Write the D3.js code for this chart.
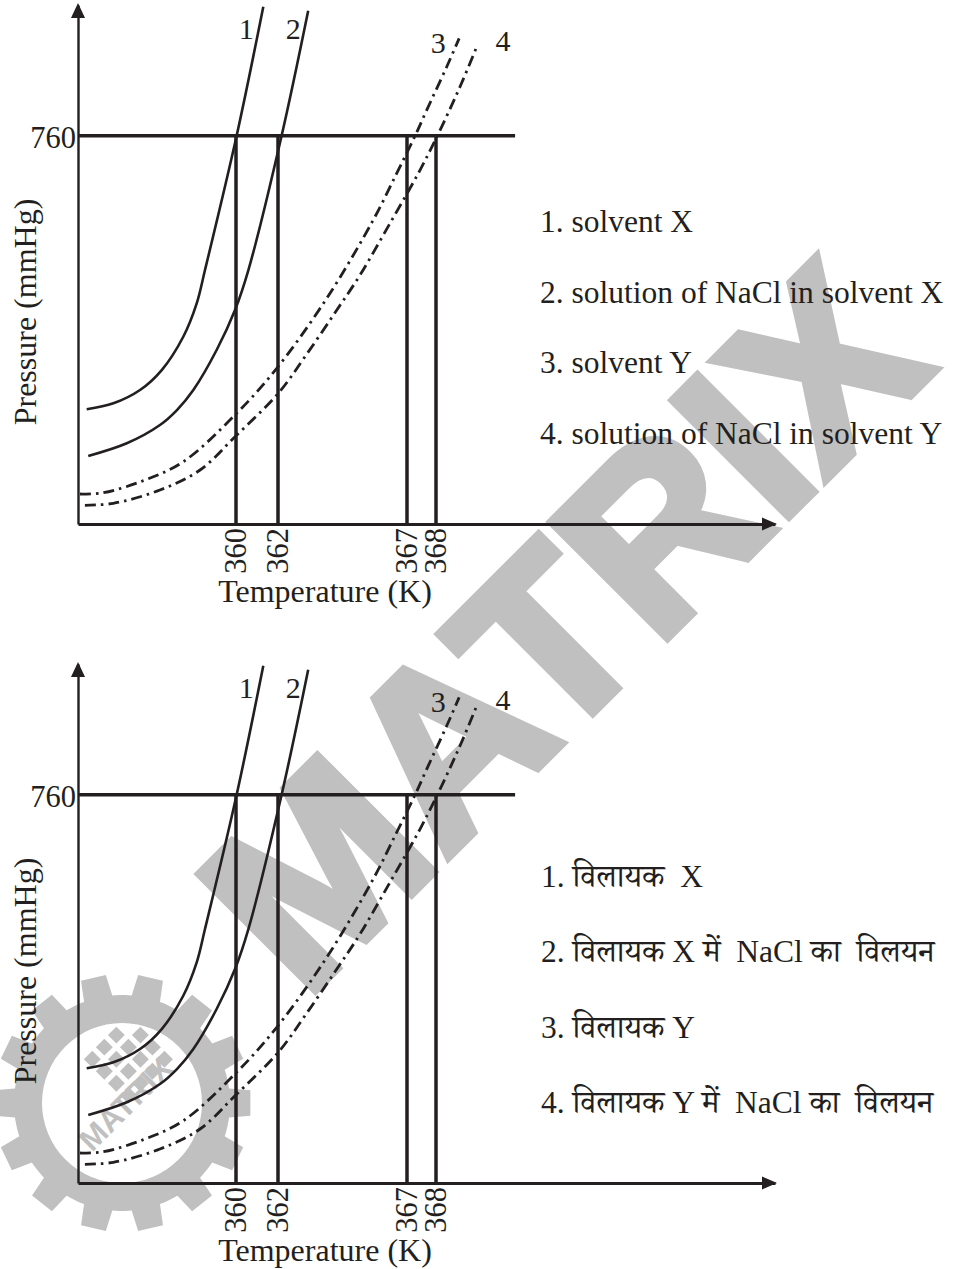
<!DOCTYPE html>
<html>
<head>
<meta charset="utf-8">
<script src="https://cdn.jsdelivr.net/npm/d3@7"></script>
<style>
  html, body { margin: 0; padding: 0; background: #ffffff; }
  svg { display: block; }
  text { white-space: pre; }
</style>
</head>
<body>
<svg id="chart" width="956" height="1269"></svg>
<script>
// Boiling points marked on the temperature axis (K)
const boilingPoints = [360, 362, 367, 368];
const tickLabels = ["360", "362", "367", "368"];

// Atmospheric pressure reference (mmHg)
const atmPressure = 760;
const atmLabel = "760";
const atmLineEndT = 370.8;   // temperature where the 760 mmHg line stops

// Vapour-pressure curves: temperature (K) and pressure (mmHg)
const solventX_T   = [352.44, 353.79, 355.14, 356.24, 357.33, 358.01, 358.43, 360.03, 361.30];
const solventX_P   = [224.5, 236.2, 262.3, 301.4, 366.6, 432.0, 497.2, 760.0, 1012.5];

const solutionX_T  = [352.52, 354.47, 356.15, 357.01, 357.84, 359.02, 359.95, 360.59, 362.14, 363.17];
const solutionX_P  = [133.1, 158.0, 193.8, 223.1, 262.3, 340.6, 418.9, 497.2, 760.0, 1004.7];

const solventY_T   = [352.10, 353.28, 355.31, 357.33, 360.03, 361.94, 363.89, 365.69, 366.60, 367.28, 367.68, 368.38, 368.82];
const solventY_P   = [58.7, 61.3, 84.8, 121.9, 216.7, 304.8, 441.8, 595.0, 686.4, 760.0, 810.3, 895.1, 950.7];

const solutionY_T  = [352.35, 353.79, 356.15, 358.18, 359.95, 362.01, 363.09, 364.28, 365.18, 366.34, 367.45, 368.20, 368.85, 369.42];
const solutionY_P  = [36.6, 40.5, 66.5, 105.7, 170.9, 255.8, 330.8, 418.9, 487.4, 588.6, 692.9, 777.6, 855.9, 931.1];

const seriesNames = ["1", "2", "3", "4"];

// Legend texts
const legendEnglish = [
  "1. solvent X",
  "2. solution of NaCl in solvent X",
  "3. solvent Y",
  "4. solution of NaCl in solvent Y"
];
const legendHindi = [
  "1. विलायक  X",
  "2. विलायक X में  NaCl का  विलयन",
  "3. विलायक Y",
  "4. विलायक Y में  NaCl का  विलयन"
];

const xTitle = "Temperature (K)";
const yTitle = "Pressure (mmHg)";
const markText = "MATRIX";

// ---------------------------------------------------------------------------
const ink = "#231f20";
const grey = "#c0c0c0";
const serif = "'Liberation Serif','Times New Roman',Times,serif";
const deva = "'Liberation Serif','Noto Serif Devanagari','Noto Sans Devanagari','Lohit Devanagari','FreeSerif','Noto Sans',serif";

const svg = d3.select("#chart");

// Schematic (piece-wise) temperature axis and linear pressure axis
const x = d3.scaleLinear()
  .domain([352, 360, 362, 367, 368, 380])
  .range([78, 236, 278, 407, 436, 775]);
const y = d3.scaleLinear().domain([0, 1016]).range([524, 5]);

const zip = (T, P) => T.map((t, i) => ({ t, p: P[i] }));
const dashDot = "11,5,2.5,5";
const series = [
  { name: seriesNames[0], pts: zip(solventX_T, solventX_P),   dash: null,    lab: [-17, 32] },
  { name: seriesNames[1], pts: zip(solutionX_T, solutionX_P), dash: null,    lab: [-15, 28] },
  { name: seriesNames[2], pts: zip(solventY_T, solventY_P),   dash: dashDot, lab: [-21, 15] },
  { name: seriesNames[3], pts: zip(solutionY_T, solutionY_P), dash: dashDot, lab: [27, 3] }
];

// ---------------- background mark ----------------
const wm = svg.append("g").attr("class", "watermark");

function gearPath(cx, cy, rTip, rRoot, rHole, teeth, phase) {
  const p = d3.path();
  const pitch = 2 * Math.PI / teeth;
  const wRoot = pitch * 0.30, wTip = pitch * 0.22;
  const pt = (r, a) => [cx + r * Math.sin(a), cy - r * Math.cos(a)];
  for (let i = 0; i < teeth; i++) {
    const c = phase + i * pitch;
    const a = pt(rRoot, c - wRoot), b = pt(rTip, c - wTip), d = pt(rTip, c + wTip), e = pt(rRoot, c + wRoot);
    if (i === 0) p.moveTo(a[0], a[1]); else p.lineTo(a[0], a[1]);
    p.lineTo(b[0], b[1]); p.lineTo(d[0], d[1]); p.lineTo(e[0], e[1]);
    const next = c + pitch - wRoot;
    for (let s = 1; s <= 6; s++) {
      const q = pt(rRoot, c + wRoot + (next - c - wRoot) * s / 6);
      p.lineTo(q[0], q[1]);
    }
  }
  p.closePath();
  p.moveTo(cx + rHole, cy);
  p.arc(cx, cy, rHole, 0, 2 * Math.PI, true);
  p.closePath();
  return p.toString();
}

const gearC = [122, 1103];
wm.append("path")
  .attr("d", gearPath(gearC[0], gearC[1], 129, 108, 80, 14, Math.PI / 14))
  .attr("fill", grey).attr("fill-rule", "evenodd");

// small logo inside the gear
const logo = wm.append("g").attr("transform", `translate(${gearC[0]},${gearC[1]}) rotate(-45)`);
const cells = d3.range(16).map(k => ({ i: k % 4, j: Math.floor(k / 4) })).filter(c => !(c.i === 3 && c.j === 0));
logo.selectAll("rect").data(cells).join("rect")
  .attr("x", c => 4 + c.i * 17)
  .attr("y", c => -58 + c.j * 17)
  .attr("width", 12).attr("height", 12)
  .attr("fill", grey);
logo.append("text")
  .attr("x", 2).attr("y", 14)
  .attr("text-anchor", "middle")
  .attr("font-family", "'Liberation Sans',Arial,sans-serif")
  .attr("font-weight", "bold")
  .attr("font-size", 31)
  .attr("fill", grey)
  .text(markText);

wm.append("text")
  .attr("transform", "translate(560,624) rotate(-45)")
  .attr("text-anchor", "middle")
  .attr("dy", "0.36em")
  .attr("font-family", "'Liberation Sans',Arial,sans-serif")
  .attr("font-weight", "bold")
  .attr("font-size", 238)
  .attr("fill", grey)
  .attr("stroke", grey)
  .attr("stroke-width", 9)
  .attr("stroke-linejoin", "miter")
  .text(markText);

// ---------------- the two panels ----------------
const panels = [
  { dy: 0,   legend: legendEnglish, legendX: 540, legendY: 232, legendStep: 70.6, font: serif },
  { dy: 659, legend: legendHindi,   legendX: 541, legendY: 228, legendStep: 75.3, font: deva }
];

const line = d3.line().x(d => x(d.t)).y(d => y(d.p)).curve(d3.curveCatmullRom.alpha(0.5));

panels.forEach(pn => {
  const g = svg.append("g").attr("transform", `translate(0,${pn.dy})`);

  // temperature axis
  const ax = g.append("g")
    .attr("transform", `translate(0,${y(0)})`)
    .call(d3.axisBottom(x).tickValues(boilingPoints)
      .tickFormat((d, i) => tickLabels[i]).tickSize(0).tickSizeOuter(0));
  ax.select(".domain").attr("stroke", ink).attr("stroke-width", 2.8);
  ax.selectAll(".tick text")
    .attr("transform", "rotate(-90)")
    .attr("x", -4).attr("y", 0).attr("dy", "0.32em")
    .attr("text-anchor", "end")
    .attr("font-family", serif).attr("font-size", 30.5).attr("fill", ink);
  g.append("path")
    .attr("d", `M${x.range()[5] + 2},${y(0)} l-15,-6.5 v13 z`)
    .attr("fill", ink);

  // pressure axis
  const ay = g.append("g")
    .attr("transform", `translate(${x(352)},0)`)
    .call(d3.axisLeft(y).tickValues([atmPressure]).tickFormat(() => atmLabel)
      .tickSize(0).tickSizeOuter(0));
  ay.select(".domain").attr("stroke", ink).attr("stroke-width", 2.4);
  ay.selectAll(".tick text")
    .attr("x", -2).attr("dy", "0.4em")
    .attr("font-family", serif).attr("font-size", 30.5).attr("fill", ink);
  g.append("path")
    .attr("d", `M${x(352)},${y.range()[1] - 2} l-7,15 h14 z`)
    .attr("fill", ink);

  // 760 mmHg line
  g.append("line")
    .attr("x1", x(352)).attr("x2", x(atmLineEndT))
    .attr("y1", y(atmPressure)).attr("y2", y(atmPressure))
    .attr("stroke", ink).attr("stroke-width", 3.6);

  // boiling point drop lines
  g.selectAll(".bp").data(boilingPoints).join("line")
    .attr("class", "bp")
    .attr("x1", d => x(d)).attr("x2", d => x(d))
    .attr("y1", y(0)).attr("y2", y(atmPressure))
    .attr("stroke", ink).attr("stroke-width", 3.5);

  // vapour pressure curves
  g.selectAll(".curve").data(series).join("path")
    .attr("class", "curve")
    .attr("d", s => line(s.pts))
    .attr("fill", "none")
    .attr("stroke", ink)
    .attr("stroke-width", s => s.dash ? 2.8 : 2.6)
    .attr("stroke-dasharray", s => s.dash);

  // curve numbers
  g.selectAll(".num").data(series).join("text")
    .attr("class", "num")
    .attr("x", s => x(s.pts[s.pts.length - 1].t) + s.lab[0])
    .attr("y", s => y(s.pts[s.pts.length - 1].p) + s.lab[1])
    .attr("text-anchor", "middle")
    .attr("font-family", serif).attr("font-size", 30).attr("fill", ink)
    .text(s => s.name);

  // axis titles
  g.append("text")
    .attr("x", 325).attr("y", 602)
    .attr("text-anchor", "middle")
    .attr("font-family", serif).attr("font-size", 32).attr("fill", ink)
    .text(xTitle);
  g.append("text")
    .attr("transform", "translate(36,312) rotate(-90)")
    .attr("text-anchor", "middle")
    .attr("font-family", serif).attr("font-size", 32).attr("fill", ink)
    .text(yTitle);

  // legend
  g.selectAll(".leg").data(pn.legend).join("text")
    .attr("class", "leg")
    .attr("x", pn.legendX)
    .attr("y", (d, i) => pn.legendY + i * pn.legendStep)
    .attr("font-family", pn.font).attr("font-size", 31.5).attr("fill", ink)
    .text(d => d);
});
</script>
</body>
</html>
